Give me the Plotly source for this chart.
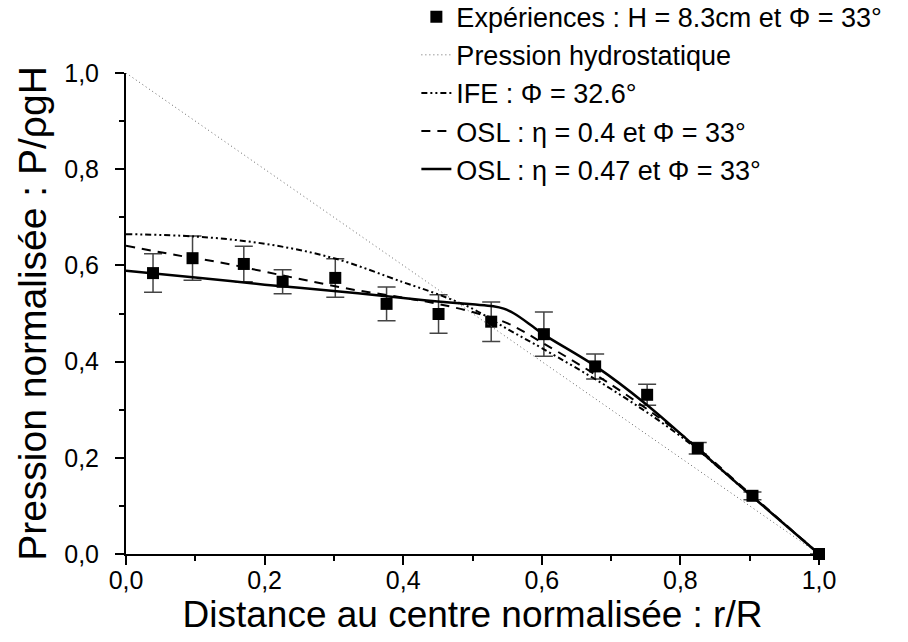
import plotly.graph_objects as go

# points experimentaux
exp_x = [0.039, 0.096, 0.170, 0.226, 0.302, 0.376, 0.451, 0.527, 0.603, 0.677, 0.752, 0.825, 0.904, 1.0]
exp_y = [0.584, 0.615, 0.603, 0.566, 0.574, 0.520, 0.499, 0.483, 0.457, 0.390, 0.331, 0.220, 0.121, 0.0]
exp_err = [0.040, 0.046, 0.037, 0.025, 0.040, 0.035, 0.040, 0.041, 0.046, 0.026, 0.022, 0.012, 0.008, 0.0]

# pression hydrostatique
hyd_x = [0.0, 1.0]
hyd_y = [1.0, 0.0]

# IFE
ife_x = [0.0, 0.1, 0.2, 0.3, 0.4, 0.45, 0.5, 0.55, 0.6, 0.7, 0.8, 0.9, 1.0]
ife_y = [0.665, 0.660, 0.645, 0.615, 0.565, 0.540, 0.510, 0.468, 0.428, 0.343, 0.245, 0.124, 0.0]

# OSL eta = 0.4
osl4_x = [0.0, 0.07, 0.14, 0.2, 0.26, 0.33, 0.4, 0.45, 0.5, 0.55, 0.6, 0.7, 0.8, 0.9, 1.0]
osl4_y = [0.641, 0.622, 0.605, 0.587, 0.569, 0.549, 0.533, 0.520, 0.503, 0.480, 0.440, 0.352, 0.250, 0.126, 0.0]

# OSL eta = 0.47
osl47_x = [0.0, 0.1, 0.2, 0.3, 0.4, 0.45, 0.5, 0.53, 0.545, 0.56, 0.587, 0.603, 0.68, 0.75, 0.82, 0.9, 1.0]
osl47_y = [0.589, 0.575, 0.560, 0.547, 0.532, 0.525, 0.519, 0.515, 0.510, 0.500, 0.473, 0.456, 0.388, 0.312, 0.225, 0.124, 0.0]

police = "Arial, Liberation Sans, sans-serif"

fig = go.Figure()
fig.add_trace(go.Scatter(
    x=exp_x, y=exp_y, mode="markers",
    name="Expériences : H = 8.3cm et Φ = 33°",
    marker=dict(symbol="square", size=12, color="black"),
    error_y=dict(type="data", array=exp_err, color="#444", thickness=1.5, width=9),
    cliponaxis=False,
))
fig.add_trace(go.Scatter(
    x=hyd_x, y=hyd_y, mode="lines", name="Pression hydrostatique",
    line=dict(color="#666", width=1, dash="1px,3px"),
))
fig.add_trace(go.Scatter(
    x=ife_x, y=ife_y, mode="lines", name="IFE : Φ = 32.6°", line_shape="spline",
    line=dict(color="black", width=2, dash="6px,3px,2px,3px,2px,3px"),
))
fig.add_trace(go.Scatter(
    x=osl4_x, y=osl4_y, mode="lines", name="OSL : η = 0.4 et Φ = 33°", line_shape="spline",
    line=dict(color="black", width=2, dash="9px,7px"),
))
fig.add_trace(go.Scatter(
    x=osl47_x, y=osl47_y, mode="lines", name="OSL : η = 0.47 et Φ = 33°", line_shape="spline",
    line=dict(color="black", width=2.5),
))

fig.update_layout(
    width=908, height=642,
    margin=dict(l=126, r=89, t=73, b=88, autoexpand=False),
    paper_bgcolor="white", plot_bgcolor="white",
    font=dict(family=police, color="black"),
    separators=",.",
    legend=dict(x=0.419, y=1.167, xanchor="left", yanchor="top",
                font=dict(size=27), bgcolor="rgba(0,0,0,0)", tracegroupgap=0),
    xaxis=dict(
        range=[0, 1.0], tickvals=[0, 0.2, 0.4, 0.6, 0.8, 1.0], tickformat=".1f",
        ticks="outside", ticklen=9, tickwidth=2, tickcolor="black", automargin=False,
        showline=True, linewidth=2, linecolor="black", showgrid=False, zeroline=False,
        minor=dict(dtick=0.1, ticks="outside", ticklen=5, tickwidth=2, tickcolor="black"),
        tickfont=dict(size=25), ticklabelstandoff=-6,
        title=dict(text="Distance au centre normalisée : r/R", font=dict(size=37), standoff=7),
    ),
    yaxis=dict(
        range=[0, 1.0], tickvals=[0, 0.2, 0.4, 0.6, 0.8, 1.0], tickformat=".1f",
        ticks="outside", ticklen=9, tickwidth=2, tickcolor="black", automargin=False,
        showline=True, linewidth=2, linecolor="black", showgrid=False, zeroline=False,
        minor=dict(dtick=0.1, ticks="outside", ticklen=5, tickwidth=2, tickcolor="black"),
        tickfont=dict(size=25), ticklabelstandoff=11,
        title=dict(text="Pression normalisée : P/ρgH", font=dict(size=39), standoff=6),
    ),
)
fig.write_html("out.html", config={"displayModeBar": False},
               post_script="document.body.style.margin='0';")
